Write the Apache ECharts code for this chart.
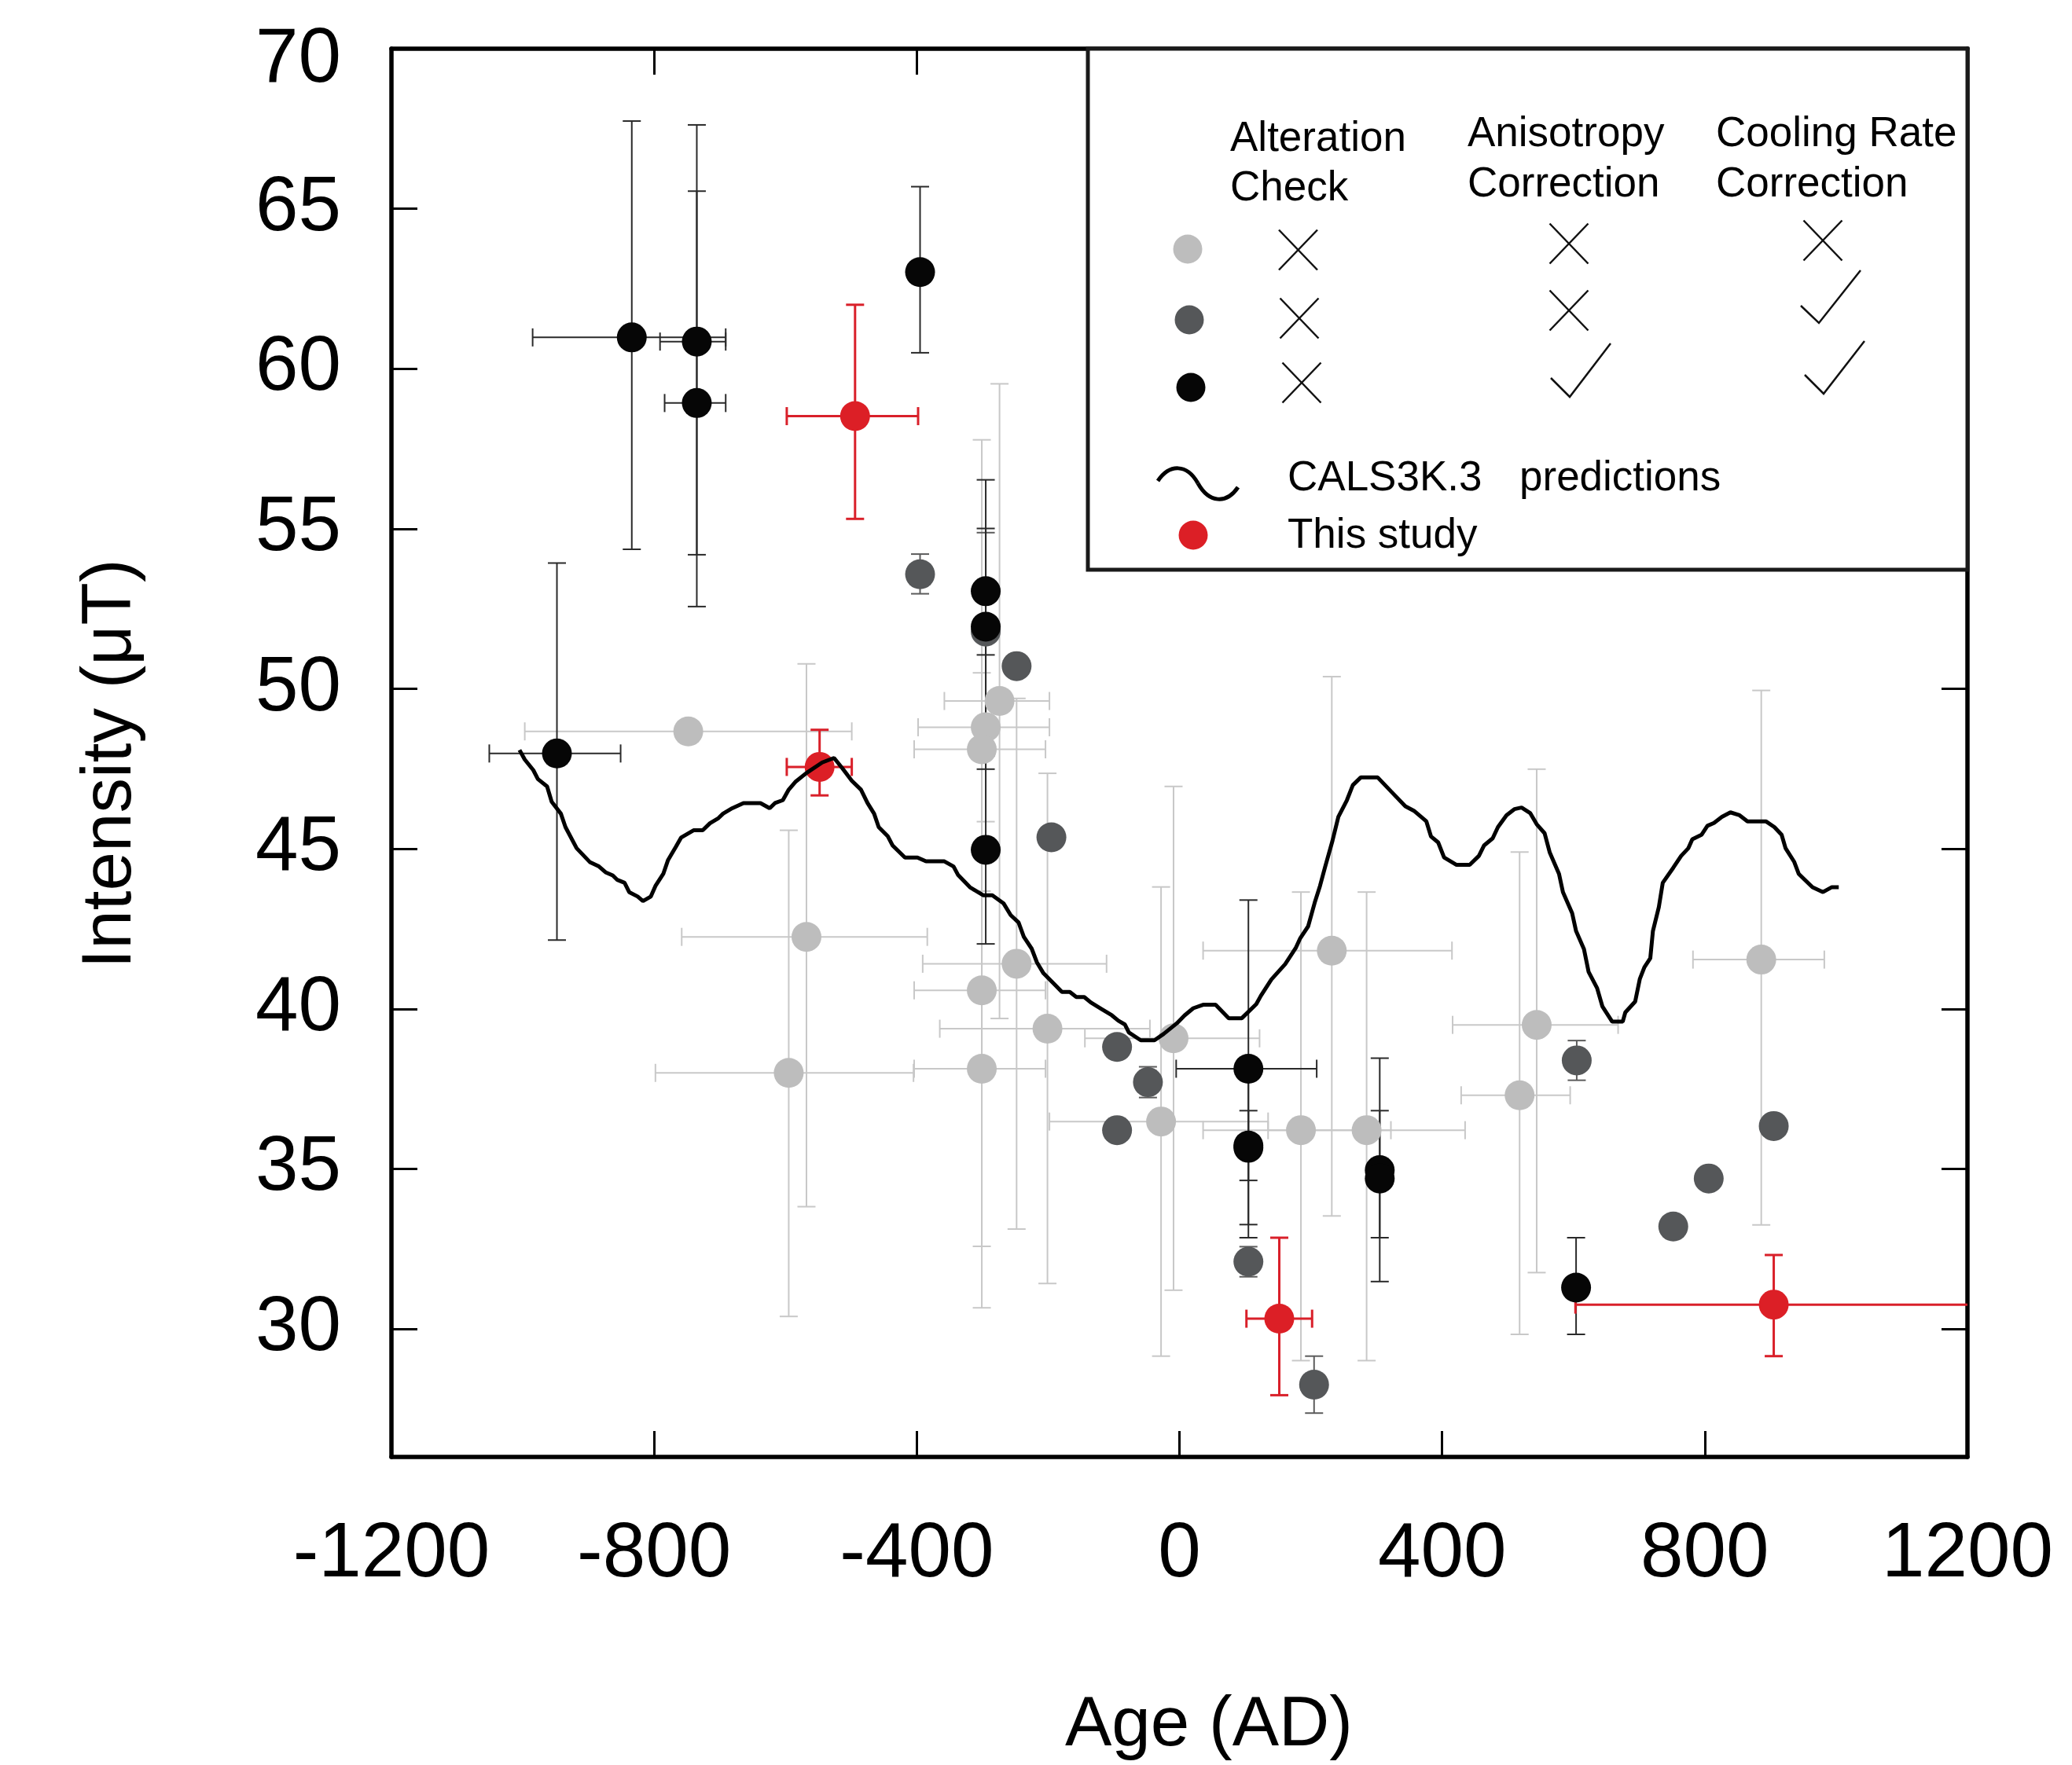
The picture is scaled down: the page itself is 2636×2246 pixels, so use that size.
<!DOCTYPE html>
<html><head><meta charset="utf-8">
<script src="https://cdn.jsdelivr.net/npm/echarts@6/dist/echarts.min.js"></script>
<style>html,body{margin:0;padding:0;background:#fff}#c{width:2636px;height:2246px}</style>
</head><body><div id="c"></div>
<script>
// ---------- tick labels ----------
const xTicks = [-1200, -800, -400, 0, 400, 800, 1200];
const yTicks = [30, 35, 40, 45, 50, 55, 60, 65, 70];

// ---------- light gray: no alteration check, no anisotropy, no cooling rate ----------
const lightAge   = [-748, -568, -595, -274, -295, -301, -248, -301, -201, -301, -9, -28, 185, 232, 285, 518, 544, 886];
const lightInt   = [48.67, 42.25, 38.00, 49.62, 48.80, 48.11, 41.41, 40.58, 39.38, 38.13, 39.08, 36.48, 36.21, 41.82, 36.21, 37.30, 39.50, 41.54];
const lightAgeLo = [-997, -758, -798, -358, -398, -404, -391, -404, -365, -404, -144, -198, 36, 36, 135, 429, 416, 782];
const lightAgeHi = [-499, -384, -405, -198, -198, -204, -111, -204, -45, -204, 122, 135, 322, 415, 435, 595, 668, 982];
const lightIntLo = [null, 33.82, 30.39, 39.70, 45.85, 38.44, 33.12, 30.66, 31.42, 32.58, 31.21, 29.15, 29.01, 33.53, 29.01, 29.83, 31.76, 33.25];
const lightIntHi = [null, 50.78, 45.58, 59.53, 51.75, 57.78, 49.70, 50.50, 47.36, 43.68, 46.95, 43.81, 43.65, 50.38, 43.65, 44.90, 47.49, 49.95];

// ---------- dark gray: cooling rate corrected ----------
const darkAge   = [-395, -295, -248, -195, -95, -48, -95, 105, 205, 605, 752, 806, 905];
const darkInt   = [53.58, 51.79, 50.71, 45.36, 38.81, 37.71, 36.21, 32.10, 28.26, 38.39, 33.20, 34.70, 36.34];
const darkAgeLo = [null, null, null, null, null, null, null, null, null, null, null, null, null];
const darkAgeHi = [null, null, null, null, null, null, null, null, null, null, null, null, null];
const darkIntLo = [52.97, 48.70, null, null, null, 37.23, null, 31.63, 27.37, 37.77, null, null, null];
const darkIntHi = [54.21, 54.88, null, null, null, 38.19, null, 32.57, 29.15, 39.01, null, null, null];

// ---------- black: anisotropy + cooling rate corrected ----------
const blackAge   = [-948, -834, -735, -735, -395, -295, -295, -295, 105, 105, 105, 305, 305, 604];
const blackInt   = [47.98, 60.98, 60.85, 58.93, 63.02, 53.05, 51.94, 44.97, 38.13, 35.66, 35.73, 34.96, 34.70, 31.29];
const blackAgeLo = [-1051, -985, -791, -784, null, null, null, null, -5, null, null, null, null, null];
const blackAgeHi = [-851, -691, -691, -691, null, null, null, null, 209, null, null, null, null, null];
const blackIntLo = [42.15, 54.36, 54.19, 52.57, 60.50, 51.06, 47.49, 42.03, 32.85, 33.26, 34.64, 31.48, 32.85, 29.83];
const blackIntHi = [53.93, 67.74, 67.62, 65.55, 65.69, 55.01, 56.53, 47.91, 43.40, 38.06, 36.82, 38.46, 36.82, 32.85];

// ---------- this study (red) ----------
const redAge   = [-494, -548, 152, 905];
const redInt   = [58.52, 47.56, 30.32, 30.76];
const redAgeLo = [-598, -598, 102, 603];
const redAgeHi = [-398, -499, 202, 1207];
const redIntLo = [55.31, 46.67, 27.93, 29.15];
const redIntHi = [62.00, 48.72, 32.85, 32.31];

// ---------- CALS3K.3 predictions ----------
const calsAge = [-1005,-997,-984,-977,-963,-956,-942,-935,-918,-898,-884,-874,-863,-856,-845,-838,-825,-817,-805,-798,-786,-779,-767,-759,-740,-726,-715,-702,-695,-681,-664,-638,-624,-616,-604,-595,-585,-568,-544,-526,-513,-499,-485,-475,-465,-458,-444,-437,-418,-399,-386,-358,-344,-337,-319,-299,-285,-268,-257,-245,-237,-225,-217,-207,-191,-179,-167,-157,-145,-135,-119,-103,-93,-83,-77,-59,-38,-24,-4,8,21,36,55,75,95,117,124,140,161,177,184,196,203,206,214,222,233,242,255,264,276,302,322,344,357,376,383,394,403,422,442,456,464,477,485,498,510,521,534,544,556,564,578,584,598,604,616,623,636,644,659,675,679,694,701,708,717,721,730,736,752,764,775,781,795,804,814,826,839,853,865,893,906,917,923,936,943,955,964,980,993,1004];
const calsInt = [48.09,47.79,47.46,47.18,46.95,46.47,46.10,45.68,45.02,44.59,44.45,44.27,44.17,44.03,43.94,43.65,43.51,43.37,43.51,43.84,44.22,44.64,45.06,45.35,45.58,45.58,45.80,45.96,46.10,46.27,46.43,46.43,46.27,46.43,46.52,46.85,47.09,47.37,47.70,47.84,47.51,47.13,46.85,46.43,46.10,45.68,45.39,45.11,44.73,44.73,44.61,44.61,44.45,44.18,43.80,43.55,43.55,43.30,42.93,42.70,42.25,41.88,41.45,41.11,40.78,40.53,40.53,40.37,40.37,40.20,40.00,39.80,39.63,39.51,39.26,39.02,39.02,39.22,39.55,39.80,40.02,40.13,40.13,39.71,39.71,40.15,40.41,40.92,41.40,41.90,42.21,42.58,43.10,43.32,43.84,44.45,45.25,46.00,46.52,46.99,47.23,47.23,46.80,46.33,46.19,45.86,45.39,45.20,44.73,44.50,44.50,44.78,45.11,45.33,45.68,46.05,46.24,46.29,46.12,45.77,45.49,44.88,44.22,43.65,42.99,42.43,41.87,41.16,40.65,40.08,39.60,39.60,39.89,40.23,40.93,41.30,41.58,42.43,43.18,43.94,44.41,44.78,45.02,45.30,45.44,45.72,45.81,46.00,46.14,46.05,45.86,45.86,45.68,45.44,45.02,44.60,44.22,43.98,43.80,43.65,43.80,43.80];

const FONT = '"Liberation Sans", Arial, Helvetica, sans-serif';
const C_LIGHT = '#bdbdbd', C_DARK = '#555759', C_BLACK = '#060606', C_RED = '#dc1f26';

function errSeries(name, age, inten, aLo, aHi, iLo, iHi, color, width) {
  return {
    type: 'custom', name: name, clip: true,
    data: age.map((a, i) => [a, inten[i]]),
    encode: { x: 0, y: 1 },
    renderItem: function (params, api) {
      const i = params.dataIndex, cap = 11.5, ch = [];
      const st = { stroke: color, lineWidth: width };
      const seg = (p, q) => ch.push({ type: 'line', shape: { x1: p[0], y1: p[1], x2: q[0], y2: q[1] }, style: st });
      if (aLo[i] != null) {
        const p = api.coord([aLo[i], inten[i]]), q = api.coord([aHi[i], inten[i]]);
        seg(p, q);
        seg([p[0], p[1] - cap], [p[0], p[1] + cap]);
        seg([q[0], q[1] - cap], [q[0], q[1] + cap]);
      }
      if (iLo[i] != null) {
        const p = api.coord([age[i], iLo[i]]), q = api.coord([age[i], iHi[i]]);
        seg(p, q);
        seg([p[0] - cap, p[1]], [p[0] + cap, p[1]]);
        seg([q[0] - cap, q[1]], [q[0] + cap, q[1]]);
      }
      return { type: 'group', children: ch };
    }
  };
}
function dots(name, age, inten, color) {
  return { type: 'scatter', name: name, symbol: 'circle', symbolSize: 38,
    itemStyle: { color: color, opacity: 1 }, data: age.map((a, i) => [a, inten[i]]) };
}

const axisCommon = {
  type: 'value', splitLine: { show: false },
  axisLine: { show: true, onZero: false, lineStyle: { color: '#000', width: 5.5 } },
  axisTick: { show: true, inside: true, length: 33, lineStyle: { color: '#000', width: 3 } }
};

const chart = echarts.init(document.getElementById('c'), null, { renderer: 'canvas' });

const txt = (t, x, y, size, align) => ({
  type: 'text', x: x, y: y, z: 20,
  style: { text: t, font: size + 'px ' + FONT, fill: '#000', textAlign: align || 'left', textVerticalAlign: 'middle' }
});
const ln = (pts, w) => ({ type: 'polyline', z: 20, shape: { points: pts }, style: { stroke: '#111', lineWidth: w || 2.5, fill: null } });
const xMark = (cx, cy) => ln([[cx - 24.5, cy - 25.5], [cx + 24.5, cy + 25.5]]);
const xMark2 = (cx, cy) => ln([[cx + 24.5, cy - 25.5], [cx - 24.5, cy + 25.5]]);
const dot = (cx, cy, c) => ({ type: 'circle', z: 20, shape: { cx: cx, cy: cy, r: 18.5 }, style: { fill: c } });
const bez = (x1, y1, c1x, c1y, c2x, c2y, x2, y2) => ({ type: 'bezierCurve', z: 20,
  shape: { x1: x1, y1: y1, cpx1: c1x, cpy1: c1y, cpx2: c2x, cpy2: c2y, x2: x2, y2: y2 },
  style: { stroke: '#000', lineWidth: 5, fill: null } });

chart.setOption({
  animation: false,
  backgroundColor: '#fff',
  grid: { left: 498, right: 133, top: 62, bottom: 392, containLabel: false },
  xAxis: [
    Object.assign({}, axisCommon, { position: 'bottom', min: -1200, max: 1200,
      axisTick: Object.assign({}, axisCommon.axisTick, { customValues: xTicks }),
      axisLabel: { customValues: xTicks, formatter: v => String(v), fontSize: 98, fontFamily: FONT, color: '#000', margin: 76 } }),
    Object.assign({}, axisCommon, { position: 'top', min: -1200, max: 1200,
      axisTick: Object.assign({}, axisCommon.axisTick, { customValues: xTicks }),
      axisLabel: { show: false } })
  ],
  yAxis: [
    Object.assign({}, axisCommon, { position: 'left', min: 26, max: 70,
      axisTick: Object.assign({}, axisCommon.axisTick, { customValues: yTicks }),
      axisLabel: { customValues: yTicks, formatter: v => (v === 70 ? '{t|70}' : String(v)),
        rich: { t: { fontSize: 98, fontFamily: FONT, color: '#000', padding: [30, 0, 0, 0] } },
        fontSize: 98, fontFamily: FONT, color: '#000', margin: 64 } }),
    Object.assign({}, axisCommon, { position: 'right', min: 26, max: 70,
      axisTick: Object.assign({}, axisCommon.axisTick, { customValues: yTicks }),
      axisLabel: { show: false } })
  ],
  series: [
    errSeries('light err', lightAge, lightInt, lightAgeLo, lightAgeHi, lightIntLo, lightIntHi, '#c8c8c8', 2),
    errSeries('dark err', darkAge, darkInt, darkAgeLo, darkAgeHi, darkIntLo, darkIntHi, '#5c5c5c', 2),
    errSeries('black err', blackAge, blackInt, blackAgeLo, blackAgeHi, blackIntLo, blackIntHi, '#2a2a2a', 2),
    { type: 'line', name: 'CALS3K.3', data: calsAge.map((a, i) => [a, calsInt[i]]), showSymbol: false,
      lineStyle: { color: '#000', width: 5 }, smooth: false },
    errSeries('red err', redAge, redInt, redAgeLo, redAgeHi, redIntLo, redIntHi, '#d9202a', 3),
    dots('light', lightAge, lightInt, C_LIGHT),
    dots('dark', darkAge, darkInt, C_DARK),
    dots('black', blackAge, blackInt, C_BLACK),
    dots('This study', redAge, redInt, C_RED)
  ],
  graphic: [
    { type: 'rect', z: 15, shape: { x: 1384, y: 62, width: 1119, height: 663 }, style: { fill: '#fff', stroke: '#1a1a1a', lineWidth: 5 } },
    txt('Alteration', 1565, 177, 53), txt('Check', 1565, 240, 53),
    txt('Anisotropy', 1867, 171, 53), txt('Correction', 1867, 235, 53),
    txt('Cooling Rate', 2183, 171, 53), txt('Correction', 2183, 235, 53),
    dot(1511, 317, C_LIGHT), dot(1513, 407, C_DARK), dot(1515, 493, C_BLACK), dot(1518, 681, C_RED),
    xMark(1651.5, 318), xMark2(1651.5, 318), xMark(1996, 310), xMark2(1996, 310), xMark(2319, 306), xMark2(2319, 306),
    xMark(1653, 405), xMark2(1653, 405), xMark(1996, 395), xMark2(1996, 395),
    ln([[2291, 389], [2314, 411], [2367, 344]]),
    xMark(1656, 487), xMark2(1656, 487),
    ln([[1973, 481], [1997, 505], [2049, 437]]),
    ln([[2296, 477], [2320, 501], [2372, 434]]),
    bez(1473, 612, 1488, 590, 1510, 590, 1524, 615),
    bez(1524, 615, 1538, 640, 1560, 642, 1575, 620),
    txt('CALS3K.3', 1638, 609, 53), txt('predictions', 1933, 609, 53),
    txt('This study', 1638, 682, 53),
    txt('Age (AD)', 1538, 2196, 89, 'center'),
    { type: 'text', x: 141, y: 972, rotation: Math.PI / 2, z: 20,
      style: { text: 'Intensity (\u03bcT)', font: '89px ' + FONT, fill: '#000', textAlign: 'center', textVerticalAlign: 'middle' } }
  ]
});
</script></body></html>
